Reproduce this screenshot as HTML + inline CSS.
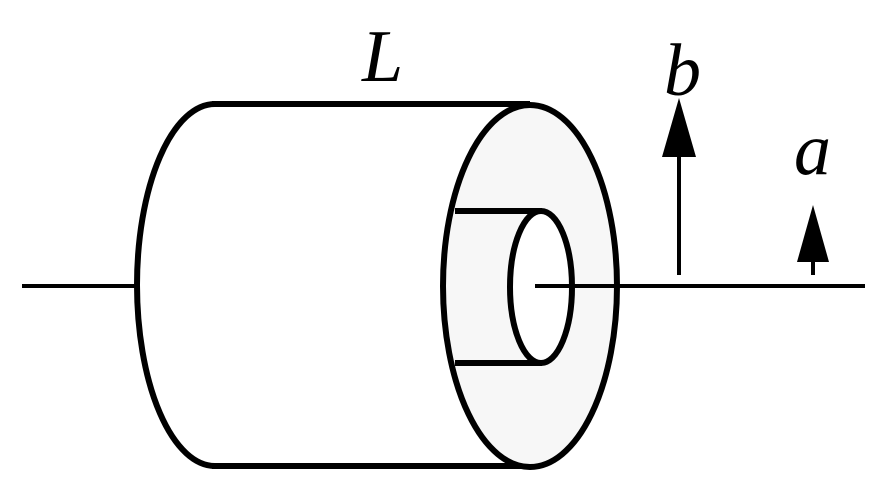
<!DOCTYPE html>
<html><head><style>html,body{margin:0;padding:0;background:#fff;}svg{display:block;}
.t{font-family:"Liberation Serif","DejaVu Serif",serif;font-style:italic;font-size:74px;fill:#000;}</style></head>
<body>
<svg width="890" height="497" viewBox="0 0 890 497" xmlns="http://www.w3.org/2000/svg">
<g stroke="#000" stroke-width="6" fill="none">
<line x1="22" y1="286" x2="139" y2="286" stroke-width="4"/>
<path d="M215,104 A78,181 0 0 0 215,466"/>
<line x1="212" y1="104" x2="530" y2="104"/>
<line x1="212" y1="466" x2="530" y2="466"/>
<ellipse cx="530" cy="286" rx="87" ry="181" fill="#f7f7f7"/>
<ellipse cx="541" cy="287" rx="31" ry="76" fill="#fff"/>
<line x1="455" y1="211" x2="542" y2="211"/>
<line x1="455" y1="363" x2="542" y2="363"/>
<line x1="535" y1="286" x2="865" y2="286" stroke-width="4"/>
<line x1="679" y1="275" x2="679" y2="150" stroke-width="4"/>
<line x1="813" y1="275" x2="813" y2="258" stroke-width="4"/>
</g>
<polygon points="679,98 662,157 696,157" fill="#000"/>
<polygon points="813,205 797,262 829,262" fill="#000"/>
<text class="t" x="362" y="81">L</text>
<text class="t" x="664" y="95">b</text>
<text class="t" x="794" y="174">a</text>
</svg>
</body></html>
